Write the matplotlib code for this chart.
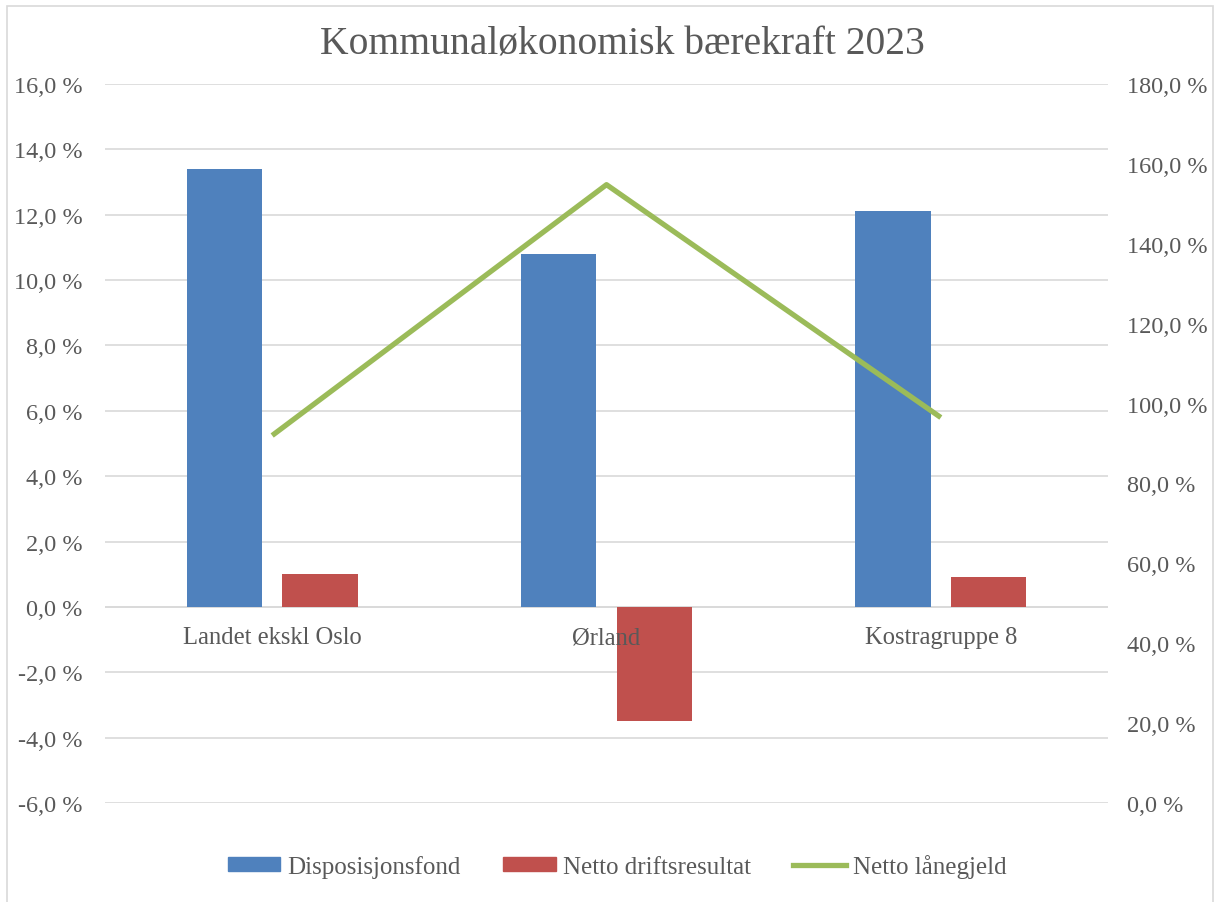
import numpy as np
import matplotlib.pyplot as plt
from matplotlib.patches import Rectangle, Patch
from matplotlib.lines import Line2D

kategorier = ['Landet ekskl Oslo', 'Ørland', 'Kostragruppe 8']
disposisjonsfond = [13.4, 10.8, 12.1]
netto_drift = [1.0, -3.5, 0.9]
netto_lanegjeld = [92.0, 154.8, 96.5]

venstre_ticks = np.arange(-6, 17, 2)
hoyre_ticks = np.arange(0, 181, 20)

tekst = '#595959'
plt.rcParams['font.family'] = ['Liberation Serif', 'DejaVu Serif']

fig = plt.figure(figsize=(12.17, 9.03), dpi=100)
W, H = 1217, 903

# ramme rundt diagrammet
fig.patches.append(Rectangle((7 / W, -0.01), (1213 - 7) / W, (H - 7) / H + 0.01,
                             transform=fig.transFigure, fill=False,
                             edgecolor='#d9d9d9', linewidth=1.2))

ax = fig.add_axes([105 / W, (H - 804) / H, (1108 - 105) / W, (804 - 85) / H])
ax2 = ax.twinx()

x = np.arange(len(kategorier))
b = 0.225
ax.bar(x - 0.143, disposisjonsfond, b, color='#4F81BD', zorder=3)
ax.bar(x + 0.143, netto_drift, b, color='#C0504D', zorder=3)
ax2.plot(x, netto_lanegjeld, color='#9BBB59', linewidth=3.8, solid_capstyle='butt')

ax.set_xlim(-0.5, 2.5)
ax.set_ylim(-6, 16)
ax2.set_ylim(0, 180)
ax.set_yticks(venstre_ticks)
ax.set_yticklabels([f'{v:.1f} %'.replace('.', ',') for v in venstre_ticks])
ax2.set_yticks(hoyre_ticks)
ax2.set_yticklabels([f'{v:.1f} %'.replace('.', ',') for v in hoyre_ticks])
ax.grid(axis='y', color='#d9d9d9', linewidth=1.2, zorder=0)
ax.set_xticks([])
for a in (ax, ax2):
    for s in a.spines.values():
        s.set_visible(False)
ax.tick_params(axis='y', length=0, labelsize=17.5, labelcolor=tekst, pad=16)
ax2.tick_params(axis='y', length=0, labelsize=17.5, labelcolor=tekst, pad=14)
ax.axhline(0, color='#d9d9d9', linewidth=1.2, zorder=1)

for xi, k in zip(x, kategorier):
    ax.annotate(k, (xi, 0), xytext=(0, -14), textcoords='offset points',
                ha='center', va='top', fontsize=17.7, color=tekst)

fig.text(622 / W, (H - 45) / H, 'Kommunaløkonomisk bærekraft 2023',
         fontsize=28.5, color=tekst, ha='center', va='center')

handles = [Patch(color='#4F81BD'), Patch(color='#C0504D'),
           Line2D([], [], color='#9BBB59', linewidth=3.8)]
fig.legend(handles, ['Disposisjonsfond', 'Netto driftsresultat', 'Netto lånegjeld'],
           loc='center', bbox_to_anchor=(617 / W, (H - 867) / H), ncol=3,
           frameon=False, fontsize=18, labelcolor=tekst, handlelength=2.1,
           handleheight=0.5, handletextpad=0.28, columnspacing=1.7)

fig.savefig('out.png', dpi=100)
